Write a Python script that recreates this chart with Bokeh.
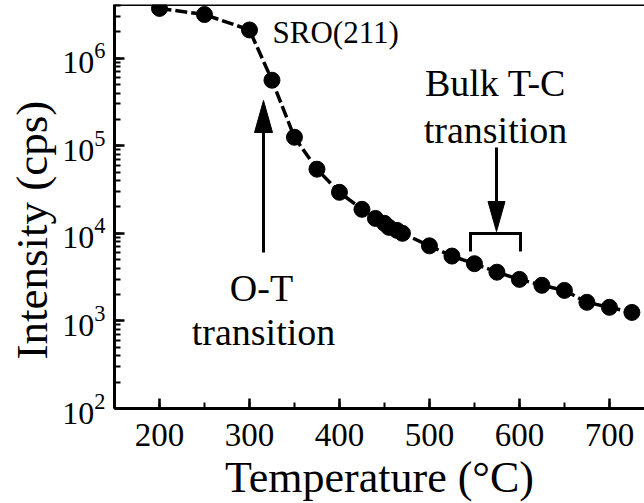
import math
from bokeh.plotting import figure
from bokeh.models import Range1d, SingleIntervalTicker, LogTicker, Label, Span, Title
from bokeh.embed import file_html
from bokeh.resources import INLINE

# ---- data ----
temperature = [200, 250, 300, 325, 350, 375, 400, 425, 440, 450, 455, 464, 470,
               500, 525, 550, 575, 600, 625, 650, 675, 700, 725]
intensity = [3.7e6, 3.15e6, 2.1e6, 5.6e5, 1.25e5, 5.4e4, 2.94e4, 1.88e4, 1.48e4,
             1.30e4, 1.17e4, 1.08e4, 1.0e4, 7.2e3, 5.5e3, 4.5e3, 3.6e3, 2.98e3,
             2.55e3, 2.23e3, 1.63e3, 1.43e3, 1.25e3]
x_tick_values = [200, 300, 400, 500, 600, 700]
annotation_texts = ["SRO(211)", "O-T", "transition", "Bulk T-C", "transition"]
x_title = "Temperature (°C)"
y_title = "Intensity (cps)"

FONT = "Liberation Serif"
X0, X1 = 150, 739
Y0, Y1 = 100, 4.1e6
LEFT, TOP = 114, 4
FW, FH = 530, 404
FL, FT = LEFT, TOP
FB = FT + FH
TEXT_SHIFT = 11  # label baseline correction

p = figure(frame_width=FW, frame_height=FH,
           x_range=Range1d(X0, X1), y_range=Range1d(Y0, Y1),
           y_axis_type="log", output_backend="svg", toolbar_location=None,
           min_border_left=LEFT, min_border_right=0, min_border_top=TOP,
           min_border_bottom=92, background_fill_color="white",
           border_fill_color="white")
p.outline_line_color = None
p.xgrid.visible = False
p.ygrid.visible = False

xa = p.xaxis[0]
xa.ticker = SingleIntervalTicker(interval=100, num_minor_ticks=2)
ya = p.yaxis[0]
ya.ticker = LogTicker(num_minor_ticks=10)
for ax in (xa, ya):
    ax.axis_line_width = 3
    ax.axis_line_color = "black"
    ax.major_tick_line_width = 2.5
    ax.minor_tick_line_width = 2
    ax.major_tick_line_color = "black"
    ax.minor_tick_line_color = "black"
    ax.major_tick_out = 0
    ax.minor_tick_out = 0
    ax.major_tick_in = 10
    ax.minor_tick_in = 6
    ax.major_label_text_font = FONT
    ax.major_label_text_color = "black"
xa.major_label_text_font_size = "33px"
xa.major_label_standoff = 15
xa.axis_label = x_title
xa.axis_label_text_font = FONT
xa.axis_label_text_font_size = "44px"
xa.axis_label_text_font_style = "normal"
xa.axis_label_text_color = "black"
xa.axis_label_standoff = 4

ya.major_label_text_font_size = "32px"
ya.major_label_standoff = 9

p.add_layout(Title(text=y_title, align="left", offset=49, standoff=5,
                   text_font=FONT, text_font_size="45px", text_font_style="normal",
                   text_color="black"), "left")

# top border
p.add_layout(Span(location=Y1, dimension="width", line_color="black", line_width=3))

# data
p.line(temperature, intensity, line_color="black", line_width=3.5, line_dash="12 4")
p.scatter(temperature, intensity, size=16, fill_color="black", line_color="black")

# ---- annotation helpers (canvas pixel -> data) ----
def dx(px):
    return X0 + (px - FL) * (X1 - X0) / FW

def dy(py):
    return 10 ** (math.log10(Y0) + (FB - py) * (math.log10(Y1) - math.log10(Y0)) / FH)

def lab(text, px, py, size, align="left", baseline="alphabetic"):
    p.add_layout(Label(x=X0, y=Y0, x_offset=px - FL, y_offset=FB - py + TEXT_SHIFT,
                       text=text, text_font=FONT, text_font_size=f"{size}px",
                       text_color="black", text_align=align, text_baseline=baseline))

def arrow(px, py_tail, py_tip, head_len, half_w):
    sgn = 1 if py_tip > py_tail else -1
    base = py_tip - sgn * head_len
    p.line([dx(px), dx(px)], [dy(py_tail), dy(base + sgn * 2)], line_color="black", line_width=3)
    p.patch([dx(px), dx(px - half_w), dx(px + half_w)],
            [dy(py_tip), dy(base), dy(base)], fill_color="black", line_color="black",
            line_width=1)

lab(annotation_texts[0], 272, 43, 31)
lab(annotation_texts[1], 261, 298, 38, align="center")
lab(annotation_texts[2], 263, 342, 38, align="center")
lab(annotation_texts[3], 495, 93, 38, align="center")
lab(annotation_texts[4], 495, 140, 38, align="center")

arrow(263, 252, 100, 32, 9)
arrow(496, 147, 231, 30, 8.5)

p.line([dx(470), dx(470), dx(520), dx(520)], [dy(251), dy(233), dy(233), dy(251)],
       line_color="black", line_width=3, line_join="miter")

open("out.html", "w").write(file_html(p, INLINE))
